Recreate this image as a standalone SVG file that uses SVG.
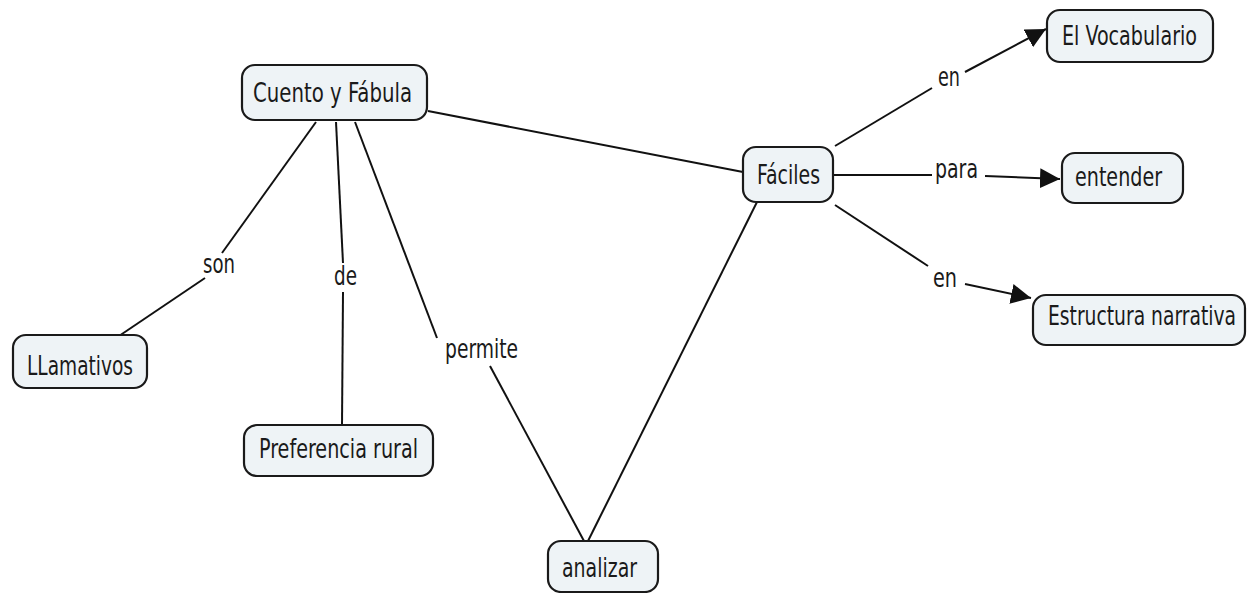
<svg xmlns="http://www.w3.org/2000/svg" width="1248" height="593" viewBox="0 0 1248 593">
<style>
.box{fill:#eef3f6;stroke:#1a1a1a;stroke-width:2.2}
.t{font-family:"DejaVu Sans Condensed","DejaVu Sans",sans-serif;font-size:27px;fill:#1a1a1a}
.l{font-family:"DejaVu Sans Condensed","DejaVu Sans",sans-serif;font-size:27px;fill:#1a1a1a}
.c{stroke:#111;stroke-width:2;fill:none}
.a{stroke:#111;stroke-width:2;fill:none;marker-end:url(#arr)}
</style>
<defs>
<marker id="arr" viewBox="0 0 10 10" refX="10" refY="5" markerWidth="20" markerHeight="20" markerUnits="userSpaceOnUse" orient="auto">
<path d="M0,0 L10,5 L0,10 z" fill="#111"/>
</marker>
</defs>
<rect width="1248" height="593" fill="#ffffff"/>
<g id="connectors">
<line class="c" x1="428" y1="111" x2="743" y2="172"/>
<line class="c" x1="316" y1="122" x2="222" y2="253"/>
<line class="c" x1="205" y1="278" x2="119" y2="336"/>
<line class="c" x1="336" y1="122" x2="343" y2="263"/>
<line class="c" x1="343" y1="292" x2="342" y2="425"/>
<line class="c" x1="355" y1="122" x2="437" y2="338"/>
<line class="c" x1="490" y1="366" x2="584" y2="541"/>
<line class="c" x1="757" y1="202" x2="588" y2="541"/>
<line class="c" x1="835" y1="146" x2="932" y2="88"/>
<line class="a" x1="965" y1="72" x2="1046" y2="29"/>
<line class="c" x1="833" y1="175" x2="932" y2="175"/>
<line class="a" x1="985" y1="176" x2="1060" y2="179"/>
<line class="c" x1="835" y1="205" x2="928" y2="266"/>
<line class="a" x1="965" y1="284" x2="1031" y2="298"/>
<text class="l" x="203" y="273" textLength="32" lengthAdjust="spacingAndGlyphs">son</text>
<text class="l" x="334" y="285" textLength="23" lengthAdjust="spacingAndGlyphs">de</text>
<text class="l" x="445" y="358" textLength="73" lengthAdjust="spacingAndGlyphs">permite</text>
<text class="l" x="938" y="86" textLength="22" lengthAdjust="spacingAndGlyphs">en</text>
<text class="l" x="935" y="178" textLength="43" lengthAdjust="spacingAndGlyphs">para</text>
<text class="l" x="933" y="287" textLength="24" lengthAdjust="spacingAndGlyphs">en</text>
</g>
<g id="cuento">
<rect class="box" x="242" y="65" width="185" height="55" rx="13"/>
<text class="t" x="253" y="102" textLength="159" lengthAdjust="spacingAndGlyphs">Cuento y Fábula</text>
</g>
<g id="faciles">
<rect class="box" x="743" y="147" width="90" height="55" rx="13"/>
<text class="t" x="757" y="184" textLength="63" lengthAdjust="spacingAndGlyphs">Fáciles</text>
</g>
<g id="vocabulario">
<rect class="box" x="1047" y="10" width="166" height="52" rx="13"/>
<text class="t" x="1062" y="45" textLength="135" lengthAdjust="spacingAndGlyphs">El Vocabulario</text>
</g>
<g id="entender">
<rect class="box" x="1062" y="153" width="121" height="50" rx="13"/>
<text class="t" x="1075" y="186" textLength="87" lengthAdjust="spacingAndGlyphs">entender</text>
</g>
<g id="estructura">
<rect class="box" x="1033" y="295" width="212" height="50" rx="13"/>
<text class="t" transform="translate(1048,325) scale(1,1.29)" x="0" y="0" style="font-size:21px" textLength="188" lengthAdjust="spacingAndGlyphs">Estructura narrativa</text>
</g>
<g id="llamativos">
<rect class="box" x="13" y="335" width="134" height="53" rx="13"/>
<text class="t" x="27" y="375" textLength="106" lengthAdjust="spacingAndGlyphs">LLamativos</text>
</g>
<g id="preferencia">
<rect class="box" x="244" y="425" width="189" height="51" rx="13"/>
<text class="t" x="259" y="458" textLength="159" lengthAdjust="spacingAndGlyphs">Preferencia rural</text>
</g>
<g id="analizar">
<rect class="box" x="548" y="541" width="110" height="51" rx="13"/>
<text class="t" x="562" y="577" textLength="75" lengthAdjust="spacingAndGlyphs">analizar</text>
</g>
</svg>
